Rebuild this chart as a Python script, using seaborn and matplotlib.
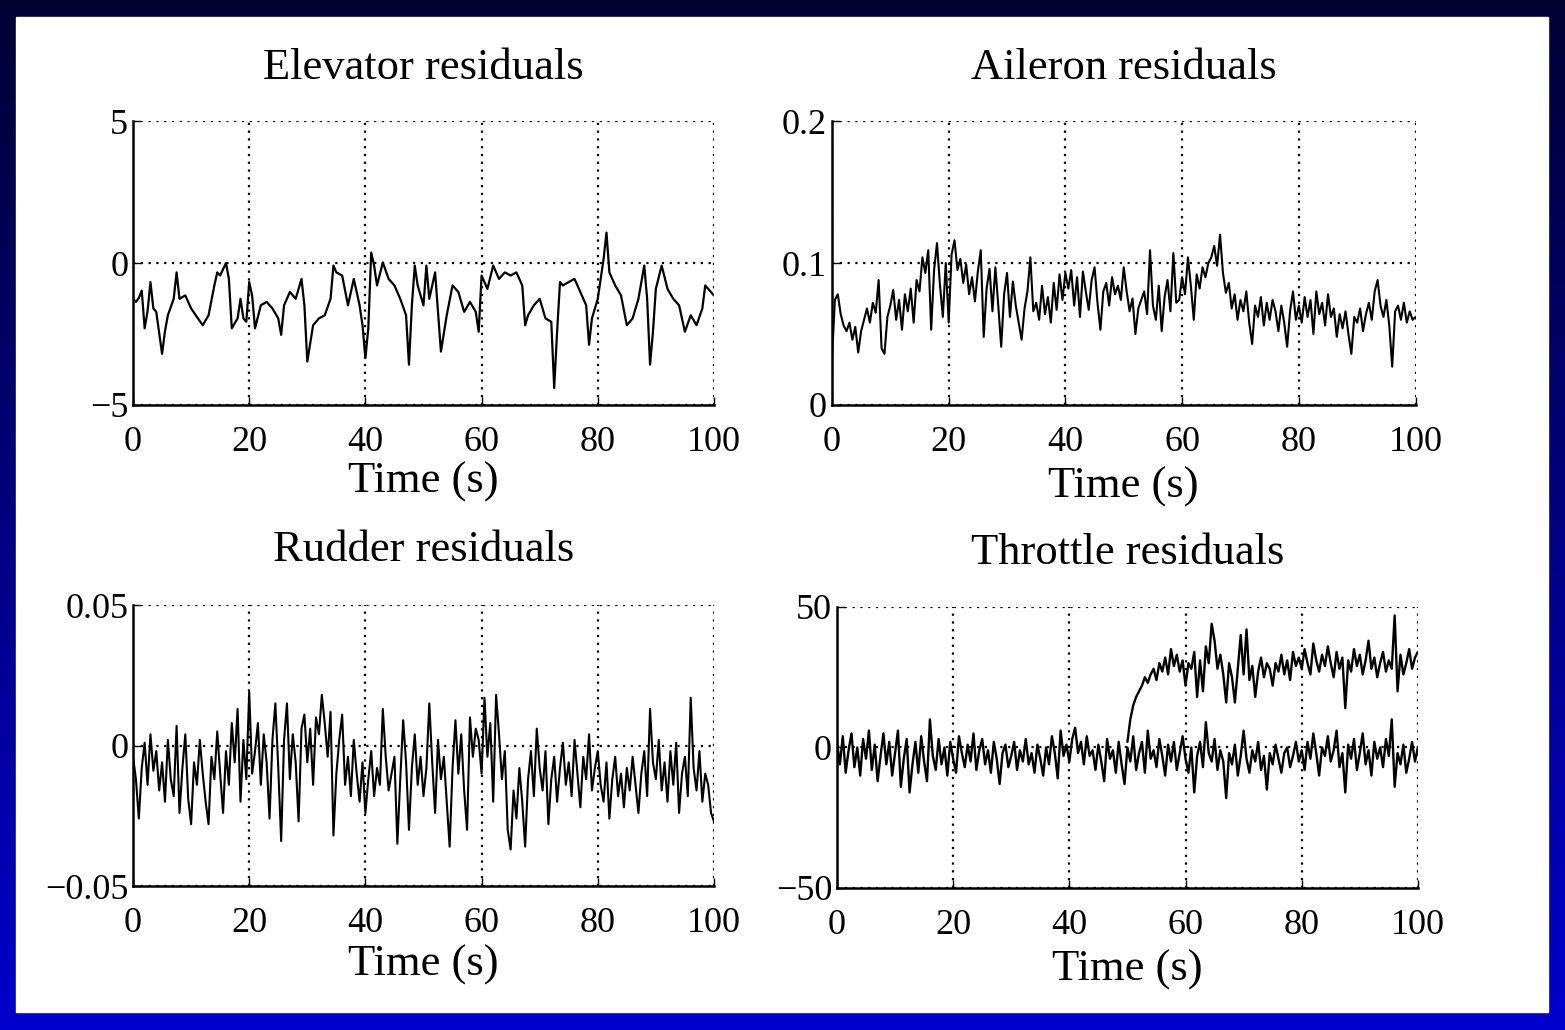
import numpy as np
import pandas as pd
import matplotlib
matplotlib.use('Agg')
import matplotlib.pyplot as plt
import seaborn as sns
from matplotlib.patches import Rectangle

# datos
elev_t = [0, 0.5, 1, 1.5, 2, 2.5, 3, 3.5, 4,
          5, 5.5, 6, 7, 7.5, 8, 9, 10,
          11, 12, 13, 14, 14.5, 15, 16, 16.5, 17,
          18, 18.5, 19, 19.5, 20, 20.5, 21, 22, 23, 24,
          25, 25.5, 26, 27, 28, 29, 29.5, 30,
          31, 32, 33, 34, 34.5, 35, 36, 37, 38, 39, 39.5,
          40, 40.5, 41, 41.5, 42, 43, 44, 45, 46, 47, 47.5,
          48, 48.5, 49, 50, 50.5, 51, 52, 53, 54, 55,
          56, 57, 58, 59, 59.5, 60, 61, 62, 63, 64, 65,
          66, 67, 67.5, 68, 69, 70, 71, 72, 72.5, 73, 73.5,
          74, 75, 76, 77, 78, 78.5, 79, 80, 81, 81.5,
          82, 83, 84, 85, 86, 87, 88, 88.5, 89, 89.5,
          90, 91, 92, 93, 94, 95, 96, 97, 98, 98.5, 99, 100]
elev_r = [-1.26, -1.37, -1.23, -0.97, -2.3, -1.7, -0.67, -1.6, -1.72,
          -3.2, -2.4, -1.84, -1.26, -0.33, -1.26, -1.14, -1.6,
          -1.9, -2.19, -1.84, -0.79, -0.33, -0.44, 0.0, -0.56, -2.3,
          -1.95, -1.26, -1.95, -2.07, -0.67, -1.14, -2.3, -1.49, -1.37, -1.6,
          -1.95, -2.53, -1.49, -1.02, -1.26, -0.56, -1.49, -3.47,
          -2.19, -1.95, -1.84, -1.26, -0.09, -0.33, -0.44, -1.49, -0.56, -1.49, -2.19,
          -3.35, -2.3, 0.37, -0.09, -0.79, 0.02, -0.56, -0.79, -1.26, -1.84, -3.58,
          -1.49, -0.09, -0.79, -1.49, -0.09, -1.26, -0.33, -3.12, -1.84, -0.79,
          -1.02, -1.72, -1.37, -1.72, -2.42, -0.44, -0.91, -0.09, -0.56, -0.33, -0.44,
          -0.33, -0.79, -2.19, -1.84, -1.49, -1.26, -1.95, -2.07, -4.4, -2.42, -0.67,
          -0.79, -0.67, -0.56, -1.02, -1.49, -2.88, -1.95, -1.26, 0.14, 1.07,
          -0.33, -0.79, -1.14, -2.19, -1.95, -1.26, -0.09, -1.26, -3.58, -2.42,
          -0.91, -0.09, -0.91, -1.26, -1.49, -2.42, -1.84, -2.19, -1.6, -0.79, -0.91, -1.14]

# muestras cada 0.5 s
t_half = np.arange(0, 100.5, 0.5)

ail_r = [0.032, 0.074, 0.078, 0.064, 0.056, 0.052, 0.058, 0.046, 0.055, 0.037,
         0.052, 0.060, 0.068, 0.058, 0.072, 0.065, 0.088, 0.040, 0.036, 0.062,
         0.070, 0.081, 0.060, 0.074, 0.053, 0.078, 0.066, 0.082, 0.058, 0.088,
         0.080, 0.104, 0.093, 0.109, 0.053, 0.095, 0.114, 0.085, 0.062, 0.100,
         0.058, 0.106, 0.116, 0.095, 0.103, 0.086, 0.099, 0.078, 0.090, 0.073,
         0.094, 0.109, 0.048, 0.082, 0.096, 0.066, 0.097, 0.070, 0.041, 0.078,
         0.093, 0.062, 0.087, 0.070, 0.058, 0.046, 0.068, 0.080, 0.104, 0.066,
         0.072, 0.060, 0.084, 0.064, 0.076, 0.058, 0.086, 0.067, 0.092, 0.074,
         0.093, 0.082, 0.095, 0.070, 0.090, 0.062, 0.094, 0.080, 0.067, 0.088,
         0.097, 0.072, 0.053, 0.080, 0.086, 0.070, 0.090, 0.078, 0.084, 0.074,
         0.097, 0.080, 0.066, 0.075, 0.050, 0.068, 0.074, 0.080, 0.064, 0.109,
         0.070, 0.060, 0.084, 0.052, 0.076, 0.088, 0.066, 0.107, 0.072, 0.074,
         0.090, 0.078, 0.104, 0.084, 0.060, 0.092, 0.082, 0.097, 0.090, 0.100,
         0.104, 0.112, 0.098, 0.120, 0.093, 0.079, 0.086, 0.068, 0.078, 0.060,
         0.074, 0.066, 0.080, 0.058, 0.043, 0.070, 0.062, 0.076, 0.056, 0.072,
         0.060, 0.074, 0.066, 0.052, 0.070, 0.058, 0.041, 0.066, 0.080, 0.060,
         0.070, 0.058, 0.076, 0.062, 0.074, 0.050, 0.080, 0.064, 0.072, 0.056,
         0.078, 0.062, 0.068, 0.048, 0.064, 0.054, 0.066, 0.050, 0.036, 0.062,
         0.058, 0.068, 0.052, 0.064, 0.072, 0.060, 0.080, 0.088, 0.070, 0.062,
         0.074, 0.056, 0.027, 0.066, 0.070, 0.060, 0.072, 0.058, 0.066, 0.060,
         0.062]

rud_r = [-0.004, -0.012, -0.026, -0.008, 0.001, -0.014, 0.004, -0.009, -0.002, -0.016,
         -0.006, -0.020, 0.002, -0.012, -0.018, 0.007, -0.024, -0.008, 0.004, -0.019,
         -0.028, -0.006, -0.014, 0.002, -0.010, -0.020, -0.028, -0.004, -0.012, 0.005,
         -0.010, -0.024, -0.002, -0.014, 0.008, -0.006, 0.013, -0.020, 0.002, -0.012,
         0.019, -0.010, -0.002, 0.008, -0.014, 0.004, -0.006, -0.026, 0.002, 0.015,
         -0.008, -0.034, 0.002, 0.015, -0.012, 0.004, -0.006, -0.027, 0.006, 0.011,
         -0.006, 0.006, -0.014, 0.010, 0.004, 0.018, 0.008, -0.004, 0.012, -0.032,
         -0.010, 0.002, 0.011, -0.014, -0.004, -0.018, 0.002, -0.010, -0.020, -0.006,
         -0.024, -0.012, -0.002, -0.018, -0.008, -0.014, 0.013, -0.004, -0.016, -0.010,
         -0.004, -0.035, -0.012, 0.009, -0.006, -0.030, -0.008, 0.004, -0.014, -0.004,
         -0.018, -0.008, 0.015, -0.006, -0.024, 0.002, -0.012, -0.004, -0.020, -0.036,
         -0.008, 0.009, -0.010, 0.004, -0.016, -0.030, 0.010, -0.004, 0.006, 0.002,
         -0.010, 0.017, -0.004, 0.008, -0.020, 0.018, 0.004, -0.012, -0.002, -0.030,
         -0.037, -0.016, -0.026, -0.008, -0.020, -0.036, -0.012, -0.002, -0.018, 0.006,
         -0.008, -0.016, -0.002, -0.028, -0.012, -0.004, -0.020, -0.008, 0.001, -0.014,
         -0.006, -0.018, 0.002, -0.010, -0.022, -0.004, -0.012, 0.004, -0.016, -0.008,
         -0.002, -0.014, -0.020, -0.006, -0.026, -0.012, -0.004, -0.018, -0.010, -0.022,
         -0.008, -0.016, -0.004, -0.014, -0.024, -0.010, -0.002, -0.018, 0.013, -0.006,
         -0.012, 0.002, -0.016, -0.006, -0.020, -0.002, -0.014, 0.001, -0.024, -0.010,
         -0.004, -0.018, 0.017, -0.008, -0.016, -0.002, -0.020, -0.010, -0.014, -0.024,
         -0.027]

thr_r = [2, -6, 4, -9, -1, 5, -7, 0, -10, 3,
         -4, 6, -8, 1, -12, -3, 5, -6, 2, -10,
         -2, 6, -14, -4, 3, -16, -6, 2, -9, 4,
         -5, -12, 10, -3, -8, 3, -6, 0, -10, 2,
         -4, -9, 4, -2, -7, 1, -5, 5, -8, -1,
         3, -6, -1, -9, 2, -4, -13, -2, 1, -7,
         -3, 2, -8, -1, -5, 3, -6, -2, -9, 1,
         -4, -10, 0, -6, 4, -2, -11, 6, -3, 1,
         -5, 3, 7, -2, 2, -6, 4, -3, -1, -8,
         1, -5, -12, 3, -4, -1, -9, 2, -6, -13,
         0, -5, 4, -8, -2, 2, -9, 6, -4, -1,
         -7, 3, -3, -10, 1, -5, 2, -8, -2, 4,
         -4, -9, 0, -16, -3, 2, -7, 9, -2, -5,
         3, -8, -1, -5, -18, -2, -6, 1, -10, -3,
         6, -4, -9, -1, -5, 2, -8, -3, -15, -2,
         -6, 1, -4, -9, -2, 0, -7, -3, 2, -5,
         -1, -8, 2, -4, 5, -2, -10, 0, -3, 4,
         -5, -1, 6, -7, -2, -16, 1, -4, 3, -8,
         -2, 5, -6, -1, -10, 2, -4, 0, -7, 3,
         -3, 10, -14, -2, -6, 1, -9, -4, 2, -5,
         0]

# residuo con fallo a partir de t = 50 s
thr_fault_t = np.arange(50, 100.5, 0.5)
thr_fault_r = [2, 10, 15, 18, 20, 22, 25, 23, 26, 28,
               24, 30, 27, 32, 26, 35, 29, 33, 27, 31,
               22, 30, 28, 34, 18, 31, 20, 36, 30, 44,
               38, 28, 33, 26, 16, 30, 25, 16, 28, 40,
               26, 42, 24, 29, 18, 27, 32, 25, 30, 28,
               22, 30, 27, 33, 26, 31, 24, 34, 29, 32,
               28, 35, 30, 26, 37, 31, 27, 33, 29, 36,
               30, 25, 34, 28, 32, 14, 31, 27, 35, 29,
               33, 26, 31, 38, 28, 32, 25, 30, 34, 27,
               31, 28, 47, 20, 33, 26, 30, 35, 28, 32,
               34]

sns.set_theme(style='white')
plt.rcParams['font.family'] = ['Liberation Serif', 'DejaVu Serif']

fig = plt.figure(figsize=(15.65, 10.30), dpi=100)

# fondo azul degradado y panel blanco
bg = fig.add_axes([0, 0, 1, 1], zorder=-10)
g = np.linspace(0, 1, 256)
rgb = np.zeros((256, 1, 3))
rgb[:, 0, 2] = 0.2 + 0.6 * g
bg.imshow(rgb, aspect='auto', extent=[0, 1, 0, 1], origin='upper')
bg.add_patch(Rectangle((0.0102, 0.0175), 0.9788, 0.966, color='white'))
bg.set_xlim(0, 1)
bg.set_ylim(0, 1)
bg.axis('off')

panels = [
    dict(rect=[0.085, 0.6068, 0.3712, 0.2757], t=elev_t, r=elev_r, lw=1.6,
         ylim=(-5, 5), yt=[-5, 0, 5], ytl=['\u22125', '0', '5'],
         title='Elevator residuals', toff=0.187, xoff=0.272),
    dict(rect=[0.5316, 0.6068, 0.3729, 0.2757], t=t_half, r=ail_r, lw=1.5,
         ylim=(0, 0.2), yt=[0, 0.1, 0.2], ytl=['0', '0.1', '0.2'],
         title='Aileron residuals', toff=0.187, xoff=0.289),
    dict(rect=[0.085, 0.1398, 0.3712, 0.2728], t=t_half, r=rud_r, lw=1.5,
         ylim=(-0.05, 0.05), yt=[-0.05, 0, 0.05], ytl=['\u22120.05', '0', '0.05'],
         title='Rudder residuals', toff=0.196, xoff=0.281),
    dict(rect=[0.5348, 0.1379, 0.3712, 0.2728], t=t_half, r=thr_r, lw=1.7,
         ylim=(-50, 50), yt=[-50, 0, 50], ytl=['\u221250', '0', '50'],
         title='Throttle residuals', toff=0.192, xoff=0.292),
]

axes = []
for p in panels:
    ax = fig.add_axes(p['rect'])
    df = pd.DataFrame({'t': p['t'], 'r': p['r']})
    sns.lineplot(data=df, x='t', y='r', ax=ax, color='black', lw=p['lw'])
    ax.set_xlim(0, 100)
    ax.set_ylim(*p['ylim'])
    ax.set_xticks([0, 20, 40, 60, 80, 100])
    ax.set_yticks(p['yt'])
    ax.set_yticklabels(p['ytl'])
    ax.set_facecolor('white')
    ax.grid(True, linestyle=(0, (1, 2.5)), color='black', linewidth=1.6)
    for s in ['top', 'right']:
        ax.spines[s].set_visible(False)
    for s in ['left', 'bottom']:
        ax.spines[s].set_color('black')
        ax.spines[s].set_linewidth(1.8)
    ax.tick_params(axis='x', direction='in', length=6, width=1, colors='black',
                   labelsize=26, pad=15, bottom=True)
    ax.tick_params(axis='y', direction='in', length=6, width=1, colors='black',
                   labelsize=26, pad=3.5, left=True)
    ax.set_ylabel('')
    ax.set_xlabel('Time (s)', fontsize=32, color='black')
    ax.xaxis.set_label_coords(0.5, -p['xoff'])
    ax.xaxis.label.set_va('center')
    ax.text(0.5, 1 + p['toff'], p['title'], transform=ax.transAxes,
            ha='center', va='center', fontsize=32, color='black')
    axes.append(ax)

# segundo residuo del acelerador (con fallo)
df_f = pd.DataFrame({'t': thr_fault_t, 'r': thr_fault_r})
sns.lineplot(data=df_f, x='t', y='r', ax=axes[3], color='black', lw=1.7)
axes[3].set_ylabel('')
axes[3].set_xlabel('Time (s)', fontsize=32, color='black')

fig.savefig('out.png', dpi=100)
